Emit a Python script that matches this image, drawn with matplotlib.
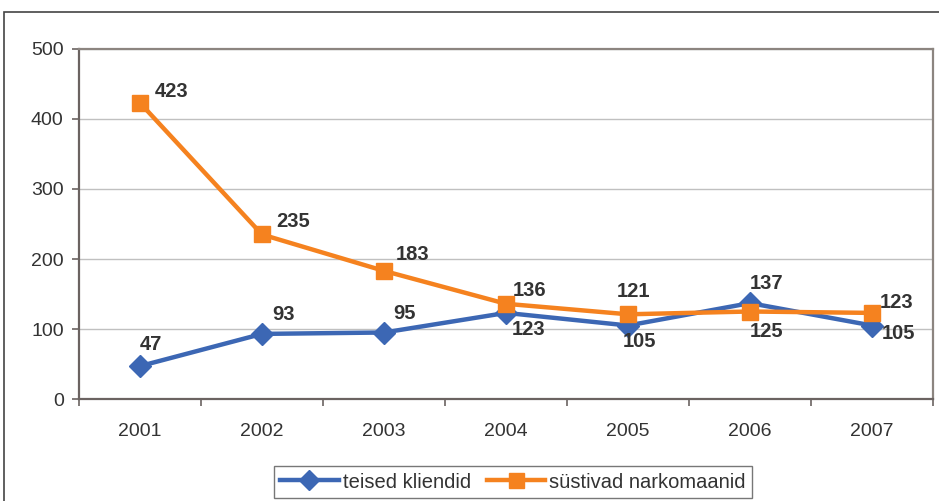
import matplotlib.pyplot as plt
from matplotlib.patches import Rectangle

plt.rcParams['font.family'] = ['Liberation Sans', 'DejaVu Sans']

years = ['2001', '2002', '2003', '2004', '2005', '2006', '2007']
teised = [47, 93, 95, 123, 105, 137, 105]
sustivad = [423, 235, 183, 136, 121, 125, 123]

# label offsets in pixels (dx to left edge, dy to centre)
teised_off = [(0, 22), (10, 19), (9, 19), (6, -17), (-5, -16), (0, 20), (10, -8)]
sustivad_off = [(15, 11), (14, 13), (12, 16), (7, 13), (-11, 23), (0, -20), (8, 10)]

blue = '#3c67b4'
orange = '#f5821f'
txt = '#333333'

fig = plt.figure(figsize=(9.39, 5.01), dpi=100)
ax = fig.add_axes([79 / 939, 102 / 501, 854 / 939, 350 / 501])

x = list(range(len(years)))
ax.plot(x, teised, color=blue, lw=3.2, marker='D', ms=11, label='teised kliendid', zorder=3)
ax.plot(x, sustivad, color=orange, lw=3.2, marker='s', ms=12, label='süstivad narkomaanid', zorder=4)

for i, v in enumerate(teised):
    ax.annotate(str(v), (i, v), xytext=teised_off[i], textcoords='offset pixels',
                ha='left', va='center', fontsize=14.5, fontweight='bold', color=txt, zorder=5)
for i, v in enumerate(sustivad):
    ax.annotate(str(v), (i, v), xytext=sustivad_off[i], textcoords='offset pixels',
                ha='left', va='center', fontsize=14.5, fontweight='bold', color=txt, zorder=5)

ax.set_xlim(-0.5, len(years) - 0.5)
ax.set_ylim(0, 500)
ax.set_yticks(range(0, 501, 100))
ax.set_xticks(x)
ax.set_xticklabels(years)
ax.set_xticks([i - 0.5 for i in range(len(years) + 1)], minor=True)
ax.tick_params(axis='x', which='major', length=0, pad=17, labelsize=14, labelcolor=txt)
ax.tick_params(axis='x', which='minor', length=5, color='#6b6361', width=1.2)
ax.tick_params(axis='y', length=5, color='#6b6361', width=1.2, pad=6, labelsize=14, labelcolor=txt)
ax.grid(axis='y', color='#c0c0c0', lw=1)
ax.set_axisbelow(True)
for s in ['left', 'bottom']:
    ax.spines[s].set_color('#6b6361')
    ax.spines[s].set_linewidth(1.6)
for s in ['top', 'right']:
    ax.spines[s].set_color('#8c8580')
    ax.spines[s].set_linewidth(1.6)

leg = fig.legend(loc='center', bbox_to_anchor=(513 / 939, 1 - 482 / 501), ncol=2,
                 fontsize=14.5, frameon=True, fancybox=False, handlelength=2.9,
                 handletextpad=0.2, columnspacing=0.8, borderpad=0.3, borderaxespad=0,
                 markerscale=0.9)
leg.get_frame().set_edgecolor('#555555')
leg.get_frame().set_linewidth(1)
for t in leg.get_texts():
    t.set_color(txt)

fig.patches.append(Rectangle((4 / 939, -0.1), 1.2, 1 - 12 / 501 + 0.1, transform=fig.transFigure,
                             fill=False, edgecolor='#444444', lw=1.2))

fig.savefig('out.png', dpi=100)
